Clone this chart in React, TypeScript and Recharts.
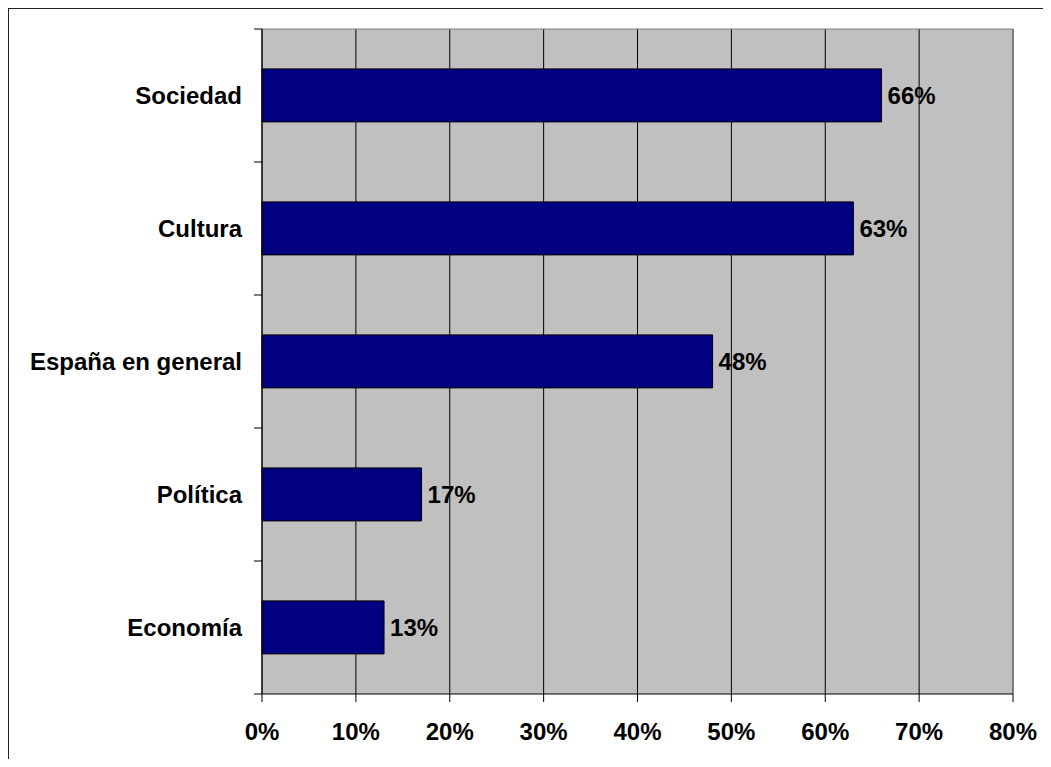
import { BarChart, Bar, XAxis, YAxis, CartesianGrid, LabelList, ReferenceLine } from 'recharts'

const categories = ['Sociedad', 'Cultura', 'España en general', 'Política', 'Economía']
const values = [66, 63, 48, 17, 13]
const xTicks = [0, 10, 20, 30, 40, 50, 60, 70, 80]

const W = 1034
const H = 750
const X_AXIS_H = 65
const MARGIN = { top: 20, right: 30, bottom: 0, left: 0 }
const Y_TICK = 8
const Y_GAP = 12
const FONT = '"Liberation Sans", Arial, sans-serif'

const data = categories.map((name, i) => ({ name, value: values[i] }))

function CategoryTick(props: any) {
  const { x, y, payload, index } = props
  const band = (H - MARGIN.top - X_AXIS_H) / categories.length
  const half = payload?.offset || band / 2
  const axisX = x + Y_GAP + Y_TICK
  return (
    <g>
      <line x1={axisX - Y_TICK} x2={axisX} y1={y - half} y2={y - half} stroke="#000" />
      {index === categories.length - 1 && (
        <line x1={axisX - Y_TICK} x2={axisX} y1={y + half} y2={y + half} stroke="#000" />
      )}
      <text x={x} y={y} dy="0.35em" textAnchor="end" fontSize={24} fontWeight={700} fill="#000" fontFamily={FONT}>
        {payload.value}
      </text>
    </g>
  )
}

export default function App() {
  return (
    <div style={{ borderTop: '1px solid #222', borderLeft: '1px solid #222', width: W, height: H, background: '#fff' }}>
      <BarChart width={W} height={H} data={data} layout="vertical" margin={MARGIN} barCategoryGap="30%">
        <CartesianGrid horizontal={false} fill="#c0c0c0" stroke="#000" fillOpacity={1} />
        <CartesianGrid
          stroke="#808080"
          horizontalCoordinatesGenerator={({ offset }: any) => [offset.top]}
          verticalCoordinatesGenerator={({ offset }: any) => [offset.left + offset.width]}
        />
        <XAxis
          type="number"
          domain={[0, 80]}
          ticks={xTicks}
          height={X_AXIS_H}
          tickFormatter={(v: number) => `${v}%`}
          axisLine={{ stroke: '#000' }}
          tickLine={{ stroke: '#000' }}
          tickSize={8}
          tickMargin={21}
          tick={{ fontSize: 24, fontWeight: 700, fill: '#000', fontFamily: FONT }}
        />
        <YAxis
          type="category"
          dataKey="name"
          width={253}
          axisLine={{ stroke: '#000' }}
          tickLine={false}
          tickSize={Y_TICK}
          tickMargin={Y_GAP}
          tick={<CategoryTick />}
        />
        <ReferenceLine x={80} stroke="#808080" />
        <Bar dataKey="value" fill="#000080" stroke="#000" strokeWidth={1} isAnimationActive={false}>
          <LabelList
            dataKey="value"
            position="right"
            offset={6}
            formatter={(v: any) => `${v}%`}
            style={{ fontSize: 24, fontWeight: 700, fill: '#000', fontFamily: FONT }}
          />
        </Bar>
      </BarChart>
    </div>
  )
}
